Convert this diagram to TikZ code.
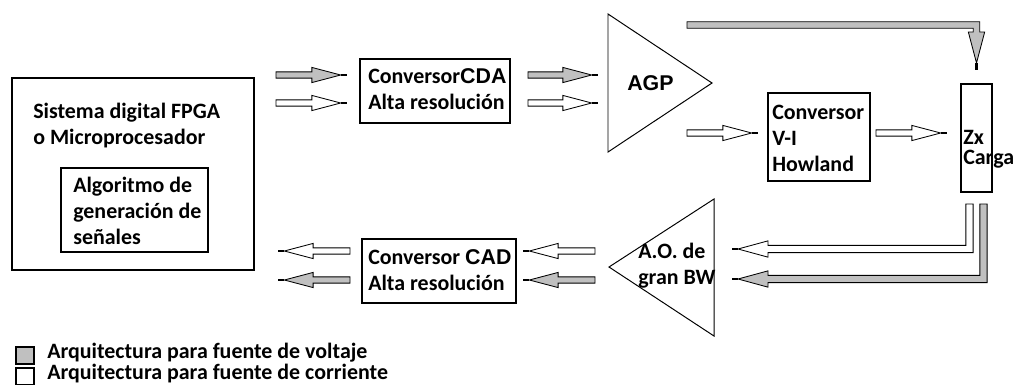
\documentclass[tikz,border=0pt]{standalone}
\usepackage{fontspec}
\setmainfont{Carlito}
\newfontfamily\arialfont{Liberation Sans Bold}
\usetikzlibrary{calc}
\definecolor{volgray}{RGB}{192,192,192}

\tikzset{
  box/.style={draw, line width=0.9pt},
  tri/.style={draw, line width=0.7pt},
  txt/.style={font=\fontsize{15.6}{18.5}\selectfont\bfseries, align=left, inner sep=0pt, anchor=west},
  arrbody/.style={draw, line width=0.6pt, line join=miter},
  arrtick/.style={line width=1.6pt}
}
\newcommand{\arl}[1]{{\arialfont\mdseries\fontsize{15.2}{18.5}\selectfont #1}}

% straight block arrow: fill, from, to
\newcommand{\blkarrow}[3]{%
  \path (#2); \pgfgetlastxy{\arrAx}{\arrAy}%
  \path (#3); \pgfgetlastxy{\arrBx}{\arrBy}%
  \pgfmathsetmacro{\arrang}{atan2(\arrBy-\arrAy,\arrBx-\arrAx)}%
  \pgfmathsetmacro{\arrlen}{veclen(\arrBx-\arrAx,\arrBy-\arrAy)}%
  \begin{scope}[shift={(#2)}, rotate=\arrang]
    \draw[arrbody, fill=#1] (0pt,-2.2pt) -- ({\arrlen*1pt-25pt},-2.2pt) -- ({\arrlen*1pt-25pt},-5.4pt)
      -- ({\arrlen*1pt-4.5pt},0pt) -- ({\arrlen*1pt-25pt},5.4pt) -- ({\arrlen*1pt-25pt},2.2pt) -- (0pt,2.2pt) -- cycle;
    \draw[arrtick] ({\arrlen*1pt-4.5pt},0pt) -- ({\arrlen*1pt},0pt);
  \end{scope}}

% L-shaped block arrow: fill, top start, left end
\newcommand{\lblkarrow}[3]{%
  \draw[arrbody, fill=#1] let \p1=(#2), \p2=(#3) in
    (\x1-2.6pt,\y1) -- (\x1+2.6pt,\y1) -- (\x1+2.6pt,\y2-2.6pt) -- (\x2+25.6pt,\y2-2.6pt)
    -- (\x2+25.6pt,\y2-5.8pt) -- (\x2+4.3pt,\y2) -- (\x2+25.6pt,\y2+5.8pt) -- (\x2+25.6pt,\y2+2.6pt)
    -- (\x1-2.6pt,\y2+2.6pt) -- cycle;
  \draw[arrtick] let \p2=(#3) in (\x2+4.3pt,\y2) -- (\x2,\y2);}

\begin{document}
\begin{tikzpicture}[x=0.025cm, y=-0.025cm]
\useasboundingbox (0,0) rectangle (1013,384);

% blocks
\draw[box] (12,78) rectangle (254,270);
\node[txt] (fpga) at (33,126) {Sistema digital FPGA\\o Microprocesador};
\draw[box] (61,168) rectangle (208,252);
\node[txt] (algo) at (73,211) {Algoritmo de\\generación de\\señales};

\draw[box] (360,59) rectangle (510,123);
\node[txt] (cda) at (368,89) {Conversor\arl{CDA}\\Alta resolución};

\draw[tri] (608,14) -- (712,83) -- (608,152) -- cycle;
\node[txt] (agp) at (627,83) {\arl{AGP}};

\draw[box] (768,93) rectangle (870,181);
\node[txt] (vi) at (772,138) {Conversor\\V-I\\Howland};

\draw[box] (961,84) rectangle (992,192);
\node[txt, font=\fontsize{15.6}{14.5}\selectfont\bfseries] (zx) at (963,149) {Zx\\Carga};

\draw[tri] (714,199) -- (609,267) -- (714,336) -- cycle;
\node[txt] (ao) at (638,266) {A.O. de\\gran BW};

\draw[box] (362,239) rectangle (516,303);
\node[txt] (cad) at (368,270) {Conversor \arl{CAD}\\Alta resolución};

% straight arrows
\foreach \nm/\xa/\xb/\yy/\col in {cdain1/276/347/75/volgray, cdain2/276/347/103/white,
    agpin1/528/598/75/volgray, agpin2/528/598/103/white,
    viin/687/758/133/white, zxin/876/947/133/white,
    cadin1/595/523/251/white, cadin2/595/523/280/volgray,
    cadout1/350/278/251/white, cadout2/350/278/280/volgray}{
  \coordinate (\nm-s) at (\xa,\yy);
  \coordinate (\nm-e) at (\xb,\yy);
  \blkarrow{\col}{\nm-s}{\nm-e}
}

% bent arrow AGP -> load
\coordinate (bend-s) at (687,25);
\coordinate (bend-e) at (976.5,70);
\draw[arrbody, fill=volgray] let \p1=(bend-s), \p2=(bend-e) in
  (\x1,\y1+2.3pt) -- (\x2+2.3pt,\y1+2.3pt) -- (\x2+2.3pt,\y2+27pt) -- (\x2+5.8pt,\y2+27pt)
  -- (\x2,\y2+5pt) -- (\x2-5.8pt,\y2+27pt) -- (\x2-2.3pt,\y2+27pt) -- (\x2-2.3pt,\y1-2.3pt)
  -- (\x1,\y1-2.3pt) -- cycle;
\draw[arrtick] let \p2=(bend-e) in (\x2,\y2+5pt) -- (\x2,\y2);

% return arrows from load
\coordinate (lw-s) at (969.5,204);
\coordinate (lw-e) at (732,249);
\coordinate (lg-s) at (983.5,204);
\coordinate (lg-e) at (732,279);
\lblkarrow{white}{lw-s}{lw-e}
\lblkarrow{volgray}{lg-s}{lg-e}

% legend
\draw[line width=1.6pt, fill=volgray] (16,347) rectangle (34,364);
\draw[line width=1.6pt, fill=white] (16,368) rectangle (34,385);
\node[txt] (leg1) at (47,353) {Arquitectura para fuente de voltaje};
\node[txt] (leg2) at (47,373.5) {Arquitectura para fuente de corriente};
\end{tikzpicture}
\end{document}
